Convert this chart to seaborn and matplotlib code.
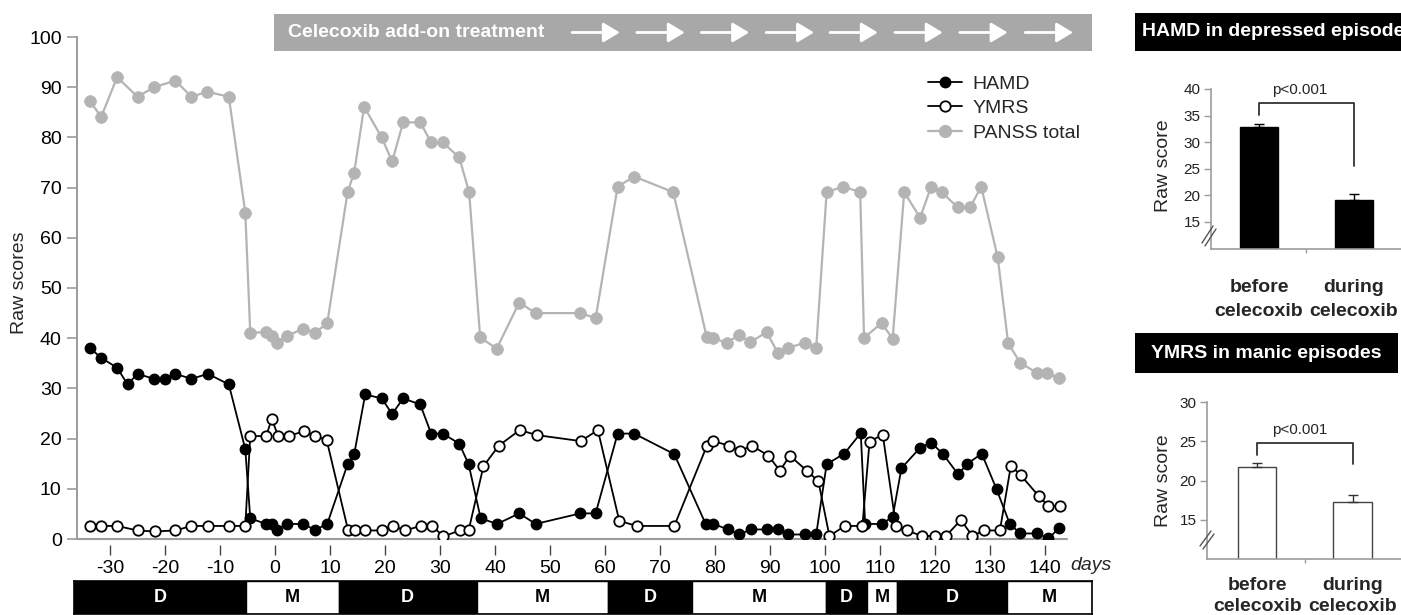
import numpy as np
import pandas as pd
import matplotlib
matplotlib.use('Agg')
import matplotlib.pyplot as plt
import seaborn as sns
from matplotlib.lines import Line2D
from matplotlib.patches import Rectangle

# ---------------- data ----------------
hamd_days = [-33.7, -31.6, -28.7, -26.8, -25.0, -22.0, -20.0, -18.1, -15.2, -12.2, -8.4, -5.4, -4.5, -1.6, -0.6,
             0.3, 2.1, 5.1, 7.3, 9.5, 13.2, 14.4, 16.4, 19.4, 21.3, 23.3, 26.4, 28.4, 30.5, 33.5, 35.2, 37.4,
             40.4, 44.4, 47.4, 55.5, 58.3, 62.3, 65.3, 72.6, 78.3, 79.7, 82.4, 84.4, 86.5, 89.4, 91.4, 93.3,
             96.4, 98.4, 100.3, 103.5, 106.5, 107.3, 110.3, 112.3, 113.9, 117.3, 119.3, 121.4, 124.2, 125.9,
             128.5, 131.2, 133.6, 135.5, 138.6, 140.6, 142.5]
hamd_vals = [38.1, 36.1, 34.1, 30.8, 32.9, 31.9, 31.9, 32.9, 31.9, 32.9, 30.8, 17.9, 4.1, 3.0, 3.0,
             1.8, 3.0, 3.0, 1.8, 3.0, 14.9, 16.9, 28.8, 28.0, 24.9, 28.0, 26.8, 21.0, 21.0, 19.0, 14.9, 4.1,
             3.0, 5.1, 3.0, 5.1, 5.1, 21.0, 21.0, 16.9, 3.0, 3.0, 1.9, 0.9, 1.9, 1.9, 1.9, 0.9,
             0.9, 0.9, 14.9, 17.0, 21.1, 3.0, 3.0, 4.4, 14.1, 18.2, 19.2, 17.0, 12.9, 15.0,
             17.0, 9.9, 3.0, 1.1, 1.1, 0.1, 2.1]

ymrs_days = [-33.7, -31.6, -28.7, -25.0, -21.9, -18.1, -15.2, -12.2, -8.4, -5.4, -4.5, -1.6, -0.6, 0.6, 2.5,
             5.3, 7.3, 9.4, 13.3, 14.5, 16.4, 19.4, 21.5, 23.6, 26.5, 28.6, 30.6, 33.6, 35.2, 37.9, 40.7,
             44.5, 47.6, 55.6, 58.7, 62.6, 65.8, 72.6, 78.5, 79.6, 82.6, 84.5, 86.7, 89.7, 91.8, 93.6, 96.7,
             98.8, 100.8, 103.6, 106.8, 108.1, 110.5, 112.9, 114.9, 117.6, 120.0, 122.0, 124.7, 126.8, 128.9,
             131.8, 133.8, 135.6, 138.9, 140.6, 142.7]
ymrs_vals = [2.6, 2.6, 2.6, 1.7, 1.5, 1.7, 2.6, 2.6, 2.6, 2.6, 20.5, 20.5, 23.9, 20.5, 20.5,
             21.5, 20.5, 19.7, 1.7, 1.7, 1.7, 1.7, 2.6, 1.7, 2.6, 2.6, 0.5, 1.7, 1.7, 14.5, 18.6,
             21.7, 20.7, 19.5, 21.7, 3.6, 2.6, 2.6, 18.5, 19.5, 18.6, 17.5, 18.6, 16.6, 13.6, 16.6, 13.6,
             11.5, 0.6, 2.6, 2.6, 19.4, 20.8, 2.6, 1.7, 0.6, 0.6, 0.6, 3.8, 0.6, 1.7,
             1.7, 14.6, 12.7, 8.5, 6.6, 6.6]

panss_days = [-33.7, -31.6, -28.7, -25.0, -22.0, -18.1, -15.2, -12.3, -8.4, -5.4, -4.5, -1.6, -0.6, 0.3, 2.1,
              5.1, 7.3, 9.5, 13.2, 14.4, 16.2, 19.4, 21.3, 23.3, 26.4, 28.4, 30.5, 33.5, 35.3, 37.3,
              40.3, 44.4, 47.4, 55.5, 58.3, 62.3, 65.3, 72.4, 78.5, 79.7, 82.1, 84.4, 86.4, 89.4, 91.4,
              93.3, 96.4, 98.4, 100.3, 103.3, 106.4, 107.1, 110.3, 112.3, 114.4, 117.3, 119.3, 121.2, 124.1,
              126.4, 128.4, 131.4, 133.3, 135.5, 138.5, 140.3, 142.5]
panss_vals = [87.3, 84.1, 92.0, 88.1, 90.0, 91.3, 88.1, 89.1, 88.1, 65.0, 41.1, 41.2, 40.5, 39.0, 40.4,
              41.9, 41.1, 43.0, 69.1, 73.0, 86.1, 80.0, 75.2, 83.0, 83.0, 79.0, 79.0, 76.0, 69.1, 40.2,
              37.9, 47.1, 45.0, 45.0, 44.0, 70.2, 72.2, 69.1, 40.2, 40.0, 39.1, 40.6, 39.2, 41.2, 37.1,
              38.1, 39.1, 38.1, 69.1, 70.2, 69.1, 40.1, 43.0, 39.9, 69.1, 64.0, 70.2, 69.1, 66.1,
              66.1, 70.2, 56.1, 39.0, 35.1, 33.1, 33.1, 32.0]

x_ticks = [-30, -20, -10, 0, 10, 20, 30, 40, 50, 60, 70, 80, 90, 100, 110, 120, 130, 140]
y_ticks = [0, 10, 20, 30, 40, 50, 60, 70, 80, 90, 100]
series_labels = ['HAMD', 'YMRS', 'PANSS total']

ep_labels = ['D', 'M', 'D', 'M', 'D', 'M', 'D', 'M', 'D', 'M']
ep_start = [-36.5, -5.3, 11.6, 36.7, 60.5, 75.8, 100.2, 107.6, 113.1, 133.1]
ep_end = [-5.3, 11.6, 36.7, 60.5, 75.8, 100.2, 107.6, 113.1, 133.1, 148.5]

treat_start, treat_end = -0.2, 148.5
arrow_starts = [54.0, 65.8, 77.5, 89.3, 100.9, 112.7, 124.5, 136.4]
arrow_len = 8.7

phase_labels = ['before\ncelecoxib', 'during\ncelecoxib']
hamd_bar = [32.8, 19.2]
hamd_err = [0.6, 1.0]
ymrs_bar = [21.7, 17.3]
ymrs_err = [0.5, 0.9]
hamd_ticks = [15, 20, 25, 30, 35, 40]
ymrs_ticks = [15, 20, 25, 30]

# ---------------- style ----------------
sns.set_style('white')
plt.rcParams['font.family'] = ['Liberation Sans', 'DejaVu Sans']
plt.rcParams['axes.unicode_minus'] = False

W, H = 1401, 615
fig = plt.figure(figsize=(W / 100, H / 100), dpi=100)


def fx(px):
    return px / W


def fy(py):
    return 1 - py / H


AX_GRAY = '#9c9c9c'
PANSS_GRAY = '#b4b4b4'
FS = 14

# ---------------- main chart ----------------
ax = fig.add_axes([fx(77), fy(539), fx(1067) - fx(77), fy(37) - fy(539)])
ax.set_xlim(-36.0, 144.0)
ax.set_ylim(0, 100)

sns.lineplot(x=panss_days, y=panss_vals, ax=ax, color=PANSS_GRAY, lw=1.6, marker='o', markersize=8.5,
             markerfacecolor=PANSS_GRAY, markeredgecolor=PANSS_GRAY, markeredgewidth=0.5,
             estimator=None, sort=False, zorder=3)
sns.lineplot(x=hamd_days, y=hamd_vals, ax=ax, color='black', lw=1.3, marker='o', markersize=7.5,
             markerfacecolor='black', markeredgecolor='black', markeredgewidth=1.0,
             estimator=None, sort=False, zorder=4)
sns.lineplot(x=ymrs_days, y=ymrs_vals, ax=ax, color='black', lw=1.3, marker='o', markersize=7.5,
             markerfacecolor='white', markeredgecolor='black', markeredgewidth=1.3,
             estimator=None, sort=False, zorder=5)

ax.axhline(0, color=AX_GRAY, lw=1.5, zorder=1, clip_on=False)
for s in ['top', 'right']:
    ax.spines[s].set_visible(False)
ax.spines['left'].set_color(AX_GRAY)
ax.spines['left'].set_linewidth(1.4)
ax.spines['left'].set_bounds(0, 100)
ax.spines['bottom'].set_position(('outward', 4))
ax.spines['bottom'].set_visible(False)

ax.set_xticks(x_ticks)
ax.set_yticks(y_ticks)
ax.tick_params(axis='y', left=True, direction='out', length=7.5, width=1.2, color=AX_GRAY,
               pad=3.5, labelsize=FS, labelcolor='black')
ax.tick_params(axis='x', bottom=True, direction='out', length=7.5, width=1.0, color='#444444',
               pad=3.5, labelsize=FS, labelcolor='black')
ax.set_xlabel('')
ax.set_ylabel('Raw scores', fontsize=FS)
ax.yaxis.set_label_coords(-0.0495, 0.51)
ax.grid(False)

ax.text(148.4, -5.2, 'days', fontsize=FS, style='italic', ha='center', va='center', clip_on=False)

# treatment bar
ax.add_patch(Rectangle((treat_start, 97.2), treat_end - treat_start, 7.4, facecolor='#a8a8a8',
                       edgecolor='none', clip_on=False, zorder=6))
ax.text(2.4, 100.9, 'Celecoxib add-on treatment', color='white', fontsize=FS, fontweight='bold',
        ha='left', va='center', clip_on=False, zorder=7)
for s0 in arrow_starts:
    ax.annotate('', xy=(s0 + arrow_len, 100.9), xytext=(s0, 100.9), annotation_clip=False,
                arrowprops=dict(arrowstyle='-|>,head_length=0.5,head_width=0.3', color='white', lw=2,
                                shrinkA=0, shrinkB=0, mutation_scale=20), zorder=7)

# legend
handles = [
    Line2D([], [], color='black', lw=1.3, marker='o', ms=7.5, mfc='black', mec='black'),
    Line2D([], [], color='black', lw=1.3, marker='o', ms=7.5, mfc='white', mec='black', mew=1.3),
    Line2D([], [], color=PANSS_GRAY, lw=1.6, marker='o', ms=8.5, mfc=PANSS_GRAY, mec=PANSS_GRAY),
]
fig.legend(handles, series_labels, loc='upper left', bbox_to_anchor=(fx(928), fy(75)), frameon=False,
           fontsize=FS, handlelength=1.75, handletextpad=0.55, labelspacing=0.36, borderpad=0,
           borderaxespad=0)

# ---------------- episode bar ----------------
axe = fig.add_axes([fx(74), fy(614), fx(1092) - fx(74), fy(581) - fy(614)])
widths = [e - s for s, e in zip(ep_start, ep_end)]
fills = ['black' if l == 'D' else 'white' for l in ep_labels]
axe.barh([0] * len(ep_labels), widths, left=ep_start, height=1.0, color=fills, edgecolor='black', lw=1)
axe.set_xlim(ep_start[0], ep_end[-1])
axe.set_ylim(-0.5, 0.5)
axe.set_xticks([])
axe.set_yticks([])
for s in axe.spines.values():
    s.set_visible(True)
    s.set_color('black')
    s.set_linewidth(1.2)
for s, e, l in zip(ep_start, ep_end, ep_labels):
    axe.text((s + e) / 2, 0, l, color='white' if l == 'D' else 'black', fontsize=13, fontweight='bold',
             ha='center', va='center')

# ---------------- right panels ----------------
def style_panel(a, ticks, label_pad, ylab_xy, lsp):
    for s in ['top', 'right']:
        a.spines[s].set_visible(False)
    for s in ['left', 'bottom']:
        a.spines[s].set_visible(True)
        a.spines[s].set_color(AX_GRAY)
        a.spines[s].set_linewidth(1.2)
    a.set_yticks(ticks)
    a.tick_params(axis='y', left=True, direction='out', length=5, width=1, color=AX_GRAY, pad=2.5,
                  labelsize=11, labelcolor='#222222')
    a.set_xticks([0, 1])
    a.set_xticklabels(phase_labels, fontsize=FS, fontweight='bold', linespacing=lsp)
    a.set_xticks([0.5], minor=True)
    a.tick_params(axis='x', which='major', bottom=True, length=0, pad=label_pad)
    a.tick_params(axis='x', which='minor', bottom=True, direction='out', length=3, width=1, color=AX_GRAY)
    a.set_xlabel('')
    a.set_ylabel('Raw score', fontsize=FS)
    a.yaxis.set_label_coords(*ylab_xy)
    a.grid(False)


# panel 1
fig.add_artist(Rectangle((fx(1135), fy(51)), fx(1410) - fx(1135), fy(13) - fy(51), transform=fig.transFigure,
                         facecolor='black', edgecolor='none'))
fig.text(fx(1142), fy(32), 'HAMD in depressed episodes', color='white', fontsize=FS, fontweight='bold',
         ha='left', va='center')
ax1 = fig.add_axes([fx(1211), fy(248.5), fx(1401) - fx(1211), fy(89) - fy(248.5)])
df1 = pd.DataFrame({'phase': phase_labels, 'score': hamd_bar})
sns.barplot(data=df1, x='phase', y='score', ax=ax1, color='black', saturation=1, width=0.4,
            errorbar=None, edgecolor='black', linewidth=1)
ax1.errorbar([0, 1], hamd_bar, yerr=[[0, 0], hamd_err], fmt='none', ecolor='black', elinewidth=1,
             capsize=3.5, capthick=1)
ax1.set_xlim(-0.505, 1.495)
ax1.set_ylim(10, 40)
style_panel(ax1, hamd_ticks, 22, (-0.205, 0.52), 1.5)
ax1.plot([0, 0, 1, 1], [35.1, 37.4, 37.4, 25.6], color='#333333', lw=1.3)
ax1.text(0.43, 39.8, 'p<0.001', fontsize=11, ha='center', va='center')

# panel 2
fig.add_artist(Rectangle((fx(1135), fy(373)), fx(1398) - fx(1135), fy(333) - fy(373), transform=fig.transFigure,
                         facecolor='black', edgecolor='none'))
fig.text(fx(1266), fy(353), 'YMRS in manic episodes', color='white', fontsize=FS, fontweight='bold',
         ha='center', va='center')
ax2 = fig.add_axes([fx(1207), fy(559), fx(1401) - fx(1207), fy(402) - fy(559)])
df2 = pd.DataFrame({'phase': phase_labels, 'score': ymrs_bar})
sns.barplot(data=df2, x='phase', y='score', ax=ax2, color='white', saturation=1, width=0.4,
            errorbar=None, edgecolor='#444444', linewidth=1)
ax2.errorbar([0, 1], ymrs_bar, yerr=[[0, 0], ymrs_err], fmt='none', ecolor='#333333', elinewidth=1,
             capsize=3.5, capthick=1)
ax2.set_xlim(-0.53, 1.51)
ax2.set_ylim(10, 30)
style_panel(ax2, ymrs_ticks, 13, (-0.18, 0.50), 1.3)
ax2.plot([0, 0, 1, 1], [23.3, 24.75, 24.75, 22.1], color='#333333', lw=1.3)
ax2.text(0.45, 26.4, 'p<0.001', fontsize=11, ha='center', va='center')

# axis break marks
for (xa, ya, xb, yb) in [(1202, 243, 1213, 226), (1205, 246, 1216, 229),
                         (1200, 546, 1211, 531), (1203, 549, 1214, 534)]:
    fig.add_artist(Line2D([fx(xa), fx(xb)], [fy(ya), fy(yb)], color='#555555', lw=1,
                          transform=fig.transFigure))

fig.savefig('out.png', dpi=100)
